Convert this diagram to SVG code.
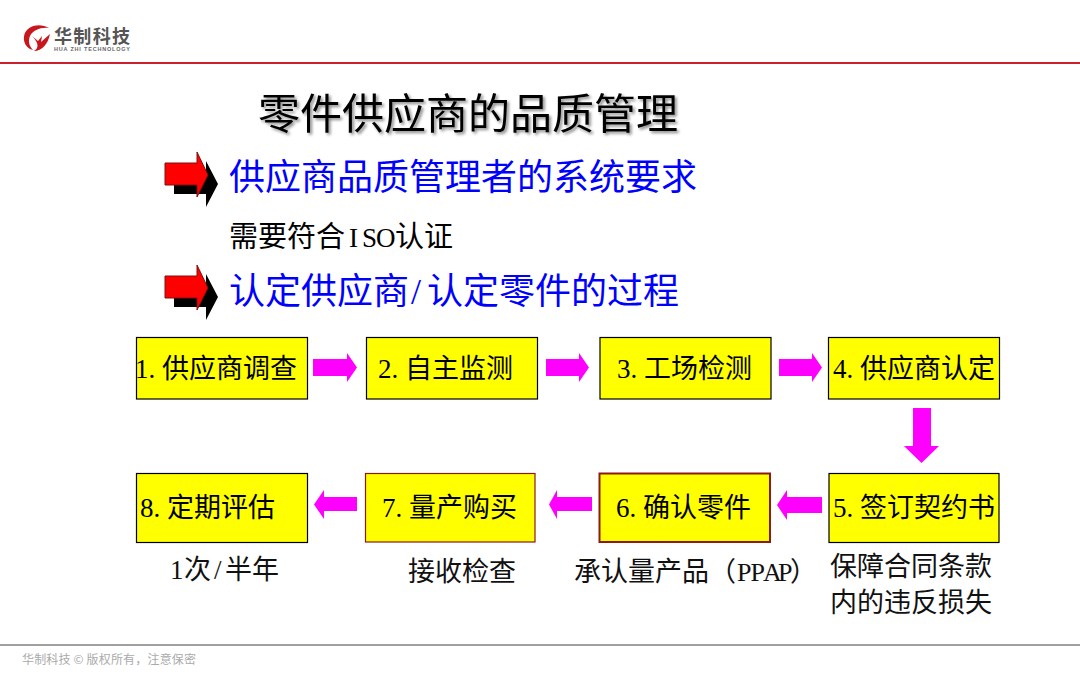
<svg xmlns="http://www.w3.org/2000/svg" width="1080" height="675" viewBox="0 0 1080 675">
<defs>
<style>
text{font-family:"Liberation Serif","Noto Sans CJK SC",serif;fill:#000}
.box{fill:#ffff00;stroke:#000;stroke-width:1.2}
.lbl{font-size:27px}
.note{font-size:27px;fill:#111}
.flow{fill:#ff00ff}
.title{font-size:42px;filter:drop-shadow(2px 2px 1.5px #888)}
.head{font-size:36px;fill:#0000ff}
</style>
<g id="bullet">
<path d="M174 172H206V161L218 184L206 207V194H174Z" fill="#000"/>
<path d="M165 163H197V152L208 175L197 197V185H165Z" fill="#ff0000" stroke="#7a1010" stroke-width="1"/>
</g>
</defs>
<rect width="1080" height="675" fill="#fff"/>
<g id="header">
<path d="M49 28C40 23 28 25 24.500 34C22 42 27 49 33 50C29 46 28 41 30 36C33 30 41 27 49 28Z" fill="#c8161d"/>
<path d="M32 36L38 41L42 36L41 42L50 34C48 44 42 51 34 51C39 48 39 43 32 36Z" fill="#c8161d"/>
<text x="54" y="43" style="font-family:'Noto Sans CJK SC',sans-serif;font-size:18px;font-weight:700;fill:#555" textLength="76">华制科技</text>
<text x="54" y="51" style="font-family:'Liberation Sans',sans-serif;font-size:5.500px;font-weight:700;fill:#666" textLength="76">HUA ZHI TECHNOLOGY</text>
<rect x="0" y="62" width="1080" height="2" fill="#c8202c"/>
</g>
<text class="title" x="258" y="129">零件供应商的品质管理</text>
<use href="#bullet"/>
<text class="head" x="229" y="190">供应商品质管理者的系统要求</text>
<text x="229" y="247" style="font-size:29px">需要符合<tspan x="349 362 376" style="font-size:27px">ISO</tspan><tspan x="395">认证</tspan></text>
<use href="#bullet" y="113"/>
<text class="head" x="229" y="304">认定供应商<tspan x="411">/</tspan><tspan x="427">认定零件的过程</tspan></text>
<g id="connectors">
<path class="flow" d="M313 359H347V353L357 367.500L347 382V376H313Z"/>
<path class="flow" d="M546 359H579V353L589 367.500L579 382V376H546Z"/>
<path class="flow" d="M779 359H812V353L822 367.500L812 382V376H779Z"/>
<path class="flow" d="M913 408H931V446H939L921.500 463L904 446H913Z"/>
<path class="flow" d="M822 497H787V490L777 505L787 520V513H822Z"/>
<path class="flow" d="M592 497H557V490L549 504.500L557 519V511H592Z"/>
<path class="flow" d="M357 497H324V490L314 504.500L324 519V511H357Z"/>
</g>
<g id="n1"><rect class="box" x="136.500" y="337.500" width="171" height="61.500"/><text class="lbl" x="135" y="378">1.<tspan x="162">供应商调查</tspan></text></g>
<g id="n2"><rect class="box" x="366.500" y="337.500" width="171" height="61.500"/><text class="lbl" x="378" y="378">2.<tspan x="405">自主监测</tspan></text></g>
<g id="n3"><rect class="box" x="600" y="337.500" width="171" height="61.500"/><text class="lbl" x="617" y="378">3.<tspan x="644">工场检测</tspan></text></g>
<g id="n4"><rect class="box" x="828.500" y="337.500" width="171" height="61.500"/><text class="lbl" x="833" y="378">4.<tspan x="860">供应商认定</tspan></text></g>
<g id="n5"><rect class="box" x="829" y="473.500" width="170" height="69"/><text class="lbl" x="833" y="517">5.<tspan x="860">签订契约书</tspan></text></g>
<g id="n6"><rect class="box" x="599.500" y="473.500" width="170.500" height="68.500" style="stroke:#8b1a1a;stroke-width:2"/><text class="lbl" x="616" y="517">6.<tspan x="643">确认零件</tspan></text></g>
<g id="n7"><rect class="box" x="365.500" y="473.500" width="169.500" height="68.500" style="stroke:#8b1a1a"/><text class="lbl" x="382" y="517">7.<tspan x="409">量产购买</tspan></text></g>
<g id="n8"><rect class="box" x="136.500" y="473.500" width="171" height="69"/><text class="lbl" x="140" y="517">8.<tspan x="167">定期评估</tspan></text></g>
<text class="note" x="170" y="579">1<tspan x="184">次</tspan><tspan x="214">/</tspan><tspan x="225">半年</tspan></text>
<text class="note" x="408" y="581">接收检查</text>
<text class="note" x="574" y="581">承认量产品（<tspan x="737 750.500 763 778" style="font-size:26px">PPAP</tspan><tspan x="790">）</tspan></text>
<text class="note" x="830" y="576">保障合同条款</text>
<text class="note" x="830" y="612">内的违反损失</text>
<g id="footer">
<rect x="0" y="644" width="1080" height="2" fill="#a0a0a0"/>
<text x="22" y="664" style="font-family:'Noto Sans CJK SC',sans-serif;font-size:12px;fill:#aaa" textLength="174">华制科技 © 版权所有，注意保密</text>
</g>
</svg>
